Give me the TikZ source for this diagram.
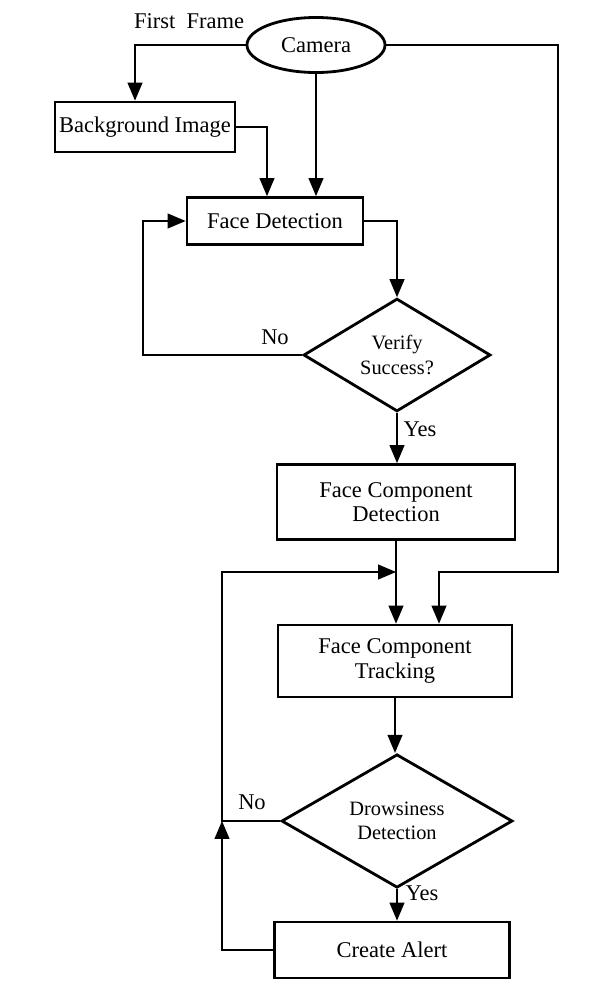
\documentclass[tikz,border=0pt]{standalone}
\usepackage{fontspec}
\setmainfont{Liberation Serif}
\usetikzlibrary{arrows,shapes.geometric}

\begin{document}
\begin{tikzpicture}%
        [x={(0.025cm,0cm)},
        y={(0cm,-0.025cm)},
        box/.style={draw,line width=2pt,rectangle,align=center,inner sep=2pt,font=\fontsize{16}{17.5}\selectfont},
        decision/.style={draw,line width=2pt,diamond,align=center,inner sep=0pt,font=\fontsize{14.5}{17.5}\selectfont},
        flow/.style={line width=2pt,-triangle 45},
        tag/.style={font=\fontsize{16}{18}\selectfont}]
    %
    \useasboundingbox (0,0) rectangle (600,1000);
    %
    %% Blocks
    \node[box,ellipse,minimum width=3.45cm,minimum height=1.375cm] (camera) at (316,45) {Camera};
    \node[box,minimum width=4.5cm,minimum height=1.25cm] (bg) at (145,127) {Background Image};
    \node[box,minimum width=4.4cm,minimum height=1.175cm] (fd) at (275,221) {Face Detection};
    \node[decision,minimum width=4.675cm,minimum height=2.75cm] (verify) at (397,355) {Verify\\Success?};
    \node[box,minimum width=5.95cm,minimum height=1.875cm] (fcd) at (396,502) {Face Component\\Detection};
    \node[box,minimum width=5.85cm,minimum height=1.8cm] (fct) at (395,661) {Face Component\\Tracking};
    \node[decision,minimum width=5.775cm,minimum height=2.8cm] (drowsy) at (397,821) {Drowsiness\\Detection};
    \node[box,minimum width=5.875cm,minimum height=1.4cm] (alert) at (392,950) {Create Alert};
    %
    %% Turning points
    \coordinate (noloop) at (143,355);
    \coordinate (rightturn) at (558,572);
    \coordinate (leftturn) at (222,572);
    %
    %% Texts
    \node[tag] (firstframe) at (189,21) {First\ \ Frame};
    \node[tag] (verifyno) at (275,337) {No};
    \node[tag] (verifyyes) at (420,429) {Yes};
    \node[tag] (drowsyno) at (252,802) {No};
    \node[tag] (drowsyyes) at (422,893) {Yes};
    %
    %% Connectors
    \draw[flow] (camera.west) -| ([xshift=-0.25cm]bg.north);
    \draw[flow] (bg.east) -| ([xshift=-0.2cm]fd.north);
    \draw[flow] (camera.south) -- (camera.south |- fd.north);
    \draw[flow] (fd.east) -| (verify.north);
    \draw[flow] (verify.west) -- (noloop) |- (fd.west);
    \draw[flow] (verify.south) -- (verify.south |- fcd.north);
    \draw[flow] (fcd.south) -- (fcd.south |- fct.north);
    \draw[flow] (camera.east) -| (rightturn) -| ([xshift=1.1cm]fct.north);
    \draw[flow] (fct.south) -- (fct.south |- drowsy.north);
    \draw[flow] (drowsy.south) -- (drowsy.south |- alert.north);
    \draw[flow] (alert.west) -| (drowsy.west -| leftturn);
    \draw[flow] (drowsy.west) -- (drowsy.west -| leftturn) |- (fcd.south |- leftturn);
    %
\end{tikzpicture}
\end{document}
